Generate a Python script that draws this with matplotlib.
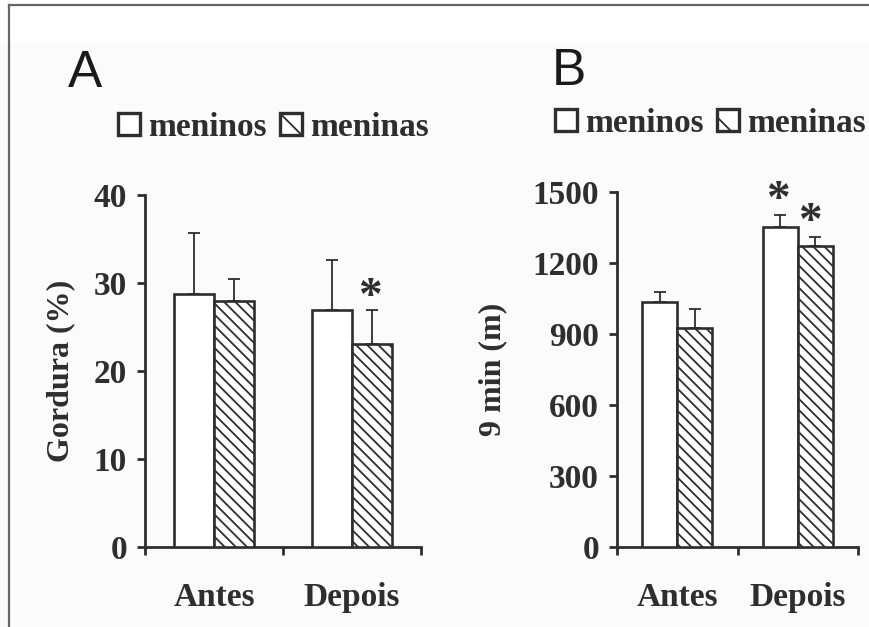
import numpy as np
import matplotlib
matplotlib.use("Agg")
import matplotlib.pyplot as plt
from matplotlib.patches import Patch, Rectangle
from matplotlib.lines import Line2D

# data
grupos = ["Antes", "Depois"]
series = ["meninos", "meninas"]

gordura_meninos = [28.8, 26.9]
gordura_meninas = [28.0, 23.1]
gordura_meninos_dp = [6.9, 5.7]
gordura_meninas_dp = [2.5, 3.8]

nove_min_meninos = [1035, 1352]
nove_min_meninas = [925, 1272]
nove_min_meninos_dp = [42, 51]
nove_min_meninas_dp = [80, 38]

INK = "#2e2e2e"
plt.rcParams["hatch.linewidth"] = 1.3
plt.rcParams["hatch.color"] = INK

W, H = 869, 627
fig = plt.figure(figsize=(W / 100, H / 100), dpi=100, facecolor="#fbfbfb")

# white band at top and the thin gray frame
fig.patches.append(Rectangle((0, 1 - 42 / H), 1, 42 / H, transform=fig.transFigure,
                             facecolor="white", edgecolor="none", zorder=0))
fig.lines.append(Line2D([8.5 / W, 8.5 / W], [0, 1 - 4.5 / H], transform=fig.transFigure,
                        color="#666666", lw=1.6))
fig.lines.append(Line2D([8.5 / W, 1], [1 - 4.5 / H, 1 - 4.5 / H], transform=fig.transFigure,
                        color="#666666", lw=1.6))

serif = "Liberation Serif"


def painel(rect, men, mna, men_dp, mna_dp, ymax, yticks, ylabel, ylab_x, leg_xy):
    ax = fig.add_axes(rect)
    ax.set_facecolor("none")
    x = np.arange(len(grupos)) + 0.5
    w = 0.29
    ax.bar(x - w / 2, men, w, color="white", edgecolor=INK, linewidth=1.9, zorder=3)
    ax.bar(x + w / 2, mna, w, color="white", edgecolor=INK, linewidth=1.9,
           hatch="\\\\\\", zorder=3)
    ax.errorbar(x - w / 2, men, yerr=[np.zeros(2), men_dp], fmt="none", ecolor=INK,
                elinewidth=1.3, capsize=4, capthick=1.3, zorder=2)
    ax.errorbar(x + w / 2, mna, yerr=[np.zeros(2), mna_dp], fmt="none", ecolor=INK,
                elinewidth=1.3, capsize=4, capthick=1.3, zorder=2)

    ax.set_xlim(0, 2)
    ax.set_ylim(0, ymax)
    for s in ["top", "right"]:
        ax.spines[s].set_visible(False)
    for s in ["left", "bottom"]:
        ax.spines[s].set_color(INK)
        ax.spines[s].set_linewidth(2.0)

    ax.set_yticks(yticks)
    ax.set_yticklabels([str(t) for t in yticks], fontfamily=serif, fontweight="bold",
                       fontsize=24, color=INK)
    ax.set_xticks([0, 1, 2])
    ax.set_xticklabels([])
    ax.set_xticks(x, minor=True)
    ax.set_xticklabels(grupos, minor=True, fontfamily=serif, fontweight="bold",
                       fontsize=24, color=INK)
    ax.tick_params(axis="both", which="major", direction="out", length=6, width=2.0,
                   color=INK, pad=7)
    ax.tick_params(axis="x", which="minor", length=0, pad=25)

    ax.set_ylabel(ylabel, fontfamily=serif, fontweight="bold", fontsize=23, color=INK)
    ax.yaxis.set_label_coords(ylab_x, 0.5)

    handles = [Patch(facecolor="white", edgecolor=INK, linewidth=2.4),
               Patch(facecolor="white", edgecolor=INK, linewidth=2.4, hatch="\\")]
    ax.legend(handles, series, loc="center left", bbox_to_anchor=leg_xy, ncol=2,
              frameon=False, borderpad=0, borderaxespad=0, handlelength=0.65,
              handleheight=0.65, handletextpad=0.25, columnspacing=0.4,
              prop={"family": serif, "weight": "bold", "size": 24},
              labelcolor=INK)
    return ax


axA = painel([145 / W, 1 - 547 / H, 276 / W, 352 / H],
             gordura_meninos, gordura_meninas, gordura_meninos_dp, gordura_meninas_dp,
             40, [0, 10, 20, 30, 40], "Gordura (%)", -0.254, (-0.098, 1.193))
axB = painel([617 / W, 1 - 547 / H, 241 / W, 355 / H],
             nove_min_meninos, nove_min_meninas, nove_min_meninos_dp, nove_min_meninas_dp,
             1500, [0, 300, 600, 900, 1200, 1500], "9 min (m)", -0.456, (-0.257, 1.194))

# significance marks
star = dict(fontfamily=serif, fontweight="bold", fontsize=34, color=INK,
            ha="center", va="center", clip_on=False)
axA.text(1.63, 28.3, "*", **star)
axB.text(1.336, 1460, "*", **star)
axB.text(1.60, 1368, "*", **star)

# panel letters
fig.text(68 / W, 1 - 87 / H, "A", fontfamily="Liberation Sans", fontsize=37,
         color="#1a1a1a", ha="left", va="baseline")
fig.text(552 / W, 1 - 85 / H, "B", fontfamily="Liberation Sans", fontsize=37,
         color="#1a1a1a", ha="left", va="baseline")

fig.savefig("out.png", dpi=100, facecolor=fig.get_facecolor())
